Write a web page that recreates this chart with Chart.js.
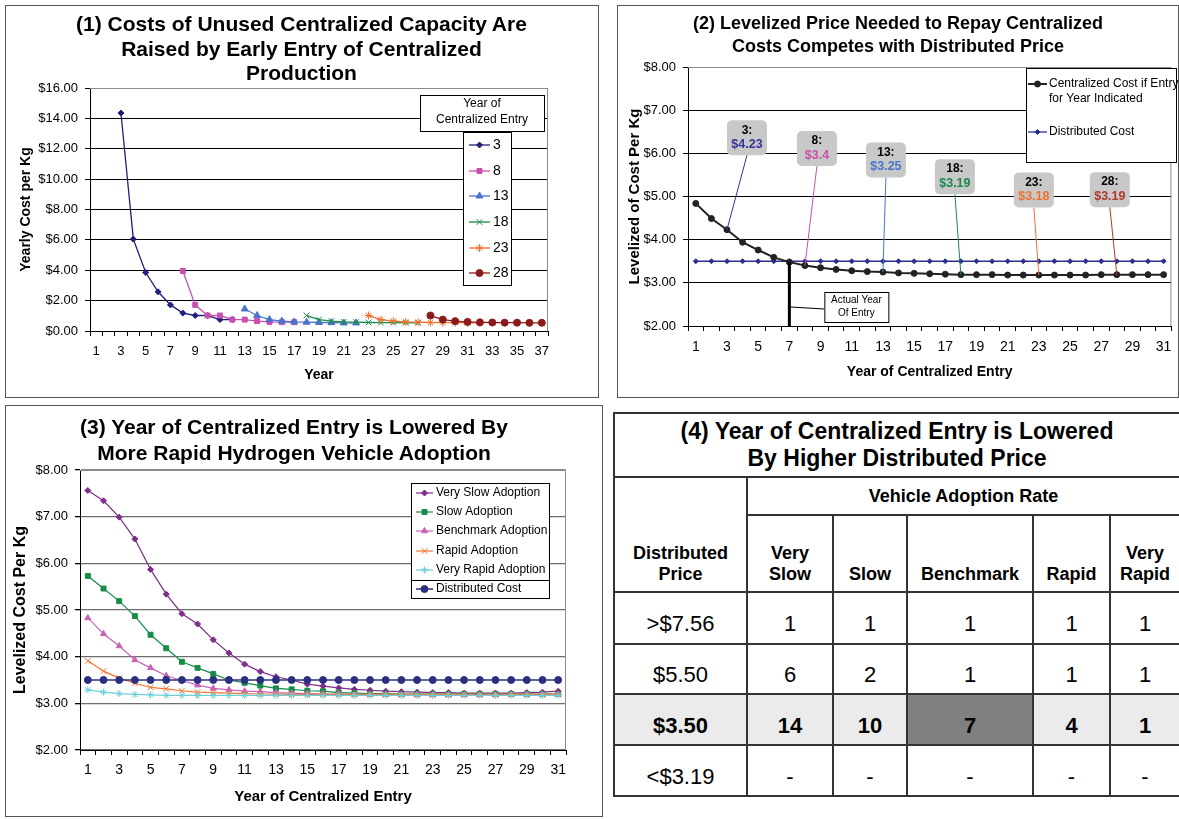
<!DOCTYPE html>
<html>
<head>
<meta charset="utf-8">
<script src="https://cdn.jsdelivr.net/npm/chart.js@4.4.1/dist/chart.umd.min.js"></script>
<style>
  html, body { margin: 0; padding: 0; background: #fff; }
  body { width: 1179px; height: 819px; position: relative; overflow: hidden;
         font-family: 'Liberation Sans', Arial, Helvetica, sans-serif; color: #000; }
  .panel { position: absolute; border: 1.5px solid #555; box-sizing: border-box; }
  .chart-title { position: absolute; text-align: center; font-weight: bold; }
  canvas { position: absolute; }
  #tbl { position: absolute; left: 613px; top: 412px; width: 566px; border-collapse: collapse;
         table-layout: fixed; font-family: inherit; }
  #tbl td { border: 2px solid #333; text-align: center; padding: 0; font-size: 22px; }
  #tbl .t-title td { height: 62px; font-size: 23px; font-weight: bold; line-height: 27px; }
  #tbl .t-head { font-size: 18px; font-weight: bold; line-height: 21px; vertical-align: bottom; padding-bottom: 6px; }
  #tbl .t-group td.t-span { vertical-align: middle; padding: 0; height: 36px; }
  #tbl .t-cols td { height: 69px; }
  #tbl .t-row td { vertical-align: middle; padding-top: 12px; }
  #tbl .t-base td { background: #ebebeb; font-weight: bold; }
  #tbl .t-base td.t-bench { background: #808080; }
</style>
</head>
<body>

<div class="panel" style="left:5px;top:5px;width:594px;height:393px;"></div>
<div class="panel" style="left:617px;top:5px;width:562px;height:393px;"></div>
<div class="panel" style="left:5px;top:405px;width:598px;height:412px;"></div>

<canvas id="chart1" width="600" height="400" style="left:0;top:0;"></canvas>
<canvas id="chart2" width="579" height="400" style="left:600px;top:0;"></canvas>
<canvas id="chart3" width="600" height="419" style="left:0;top:400px;"></canvas>

<div class="chart-title" style="left:5px;width:593px;top:12px;font-size:21px;line-height:24.5px;">(1) Costs of Unused Centralized Capacity Are<br>Raised by Early Entry of Centralized<br>Production</div>
<div class="chart-title" style="left:617px;width:562px;top:12px;font-size:18px;line-height:23px;">(2) Levelized Price Needed to Repay Centralized<br>Costs Competes with Distributed Price</div>
<div class="chart-title" style="left:0;width:588px;top:414px;font-size:21px;line-height:26px;">(3) Year of Centralized Entry is Lowered By<br>More Rapid Hydrogen Vehicle Adoption</div>

<table id="tbl">
  <colgroup><col style="width:133px"><col style="width:86px"><col style="width:74px"><col style="width:126px"><col style="width:77px"><col style="width:70px"></colgroup>
  <tbody id="tbl-body"></tbody>
</table>

<script>
/* ---------- Data: chart 1 (yearly cost per kg, by year of entry) ---------- */
var YEARS_37 = ['1','2','3','4','5','6','7','8','9','10','11','12','13','14','15','16','17','18','19',
                '20','21','22','23','24','25','26','27','28','29','30','31','32','33','34','35','36','37'];
var ENTRY_YEARS_1 = [3, 8, 13, 18, 23, 28];
var COST_ENTRY_3  = [14.35, 6.05, 3.85, 2.58, 1.72, 1.18, 1.02, 1.02, 0.75, 0.75];
var COST_ENTRY_8  = [3.95, 1.72, 1.02, 1.02, 0.75, 0.75, 0.65, 0.60, 0.58, 0.58];
var COST_ENTRY_13 = [1.45, 1.02, 0.75, 0.65, 0.60, 0.58, 0.56, 0.55, 0.53, 0.53];
var COST_ENTRY_18 = [1.02, 0.75, 0.65, 0.60, 0.58, 0.56, 0.55, 0.55, 0.54, 0.54];
var COST_ENTRY_23 = [1.02, 0.75, 0.65, 0.60, 0.58, 0.56, 0.55, 0.55, 0.54, 0.54];
var COST_ENTRY_28 = [1.02, 0.75, 0.65, 0.60, 0.57, 0.56, 0.55, 0.55, 0.54, 0.54];

/* ---------- Data: charts 2 and 3 (levelized cost per kg) ---------- */
var YEARS_31 = ['1','2','3','4','5','6','7','8','9','10','11','12','13','14','15','16',
                '17','18','19','20','21','22','23','24','25','26','27','28','29','30','31'];
var CENTRALIZED_COST = [4.84, 4.49, 4.23, 3.94, 3.76, 3.59, 3.48, 3.40, 3.35, 3.31, 3.28, 3.26, 3.25, 3.23, 3.22, 3.21,
                        3.20, 3.19, 3.19, 3.19, 3.18, 3.18, 3.18, 3.18, 3.18, 3.18, 3.19, 3.19, 3.19, 3.19, 3.19];
var DISTRIBUTED_COST = [3.5, 3.5, 3.5, 3.5, 3.5, 3.5, 3.5, 3.5, 3.5, 3.5, 3.5, 3.5, 3.5, 3.5, 3.5, 3.5,
                        3.5, 3.5, 3.5, 3.5, 3.5, 3.5, 3.5, 3.5, 3.5, 3.5, 3.5, 3.5, 3.5, 3.5, 3.5];
var CALLOUT_YEARS = [3, 8, 13, 18, 23, 28];

var VERY_SLOW  = [7.56, 7.34, 6.99, 6.52, 5.87, 5.34, 4.92, 4.70, 4.36, 4.08, 3.84, 3.68, 3.57, 3.50, 3.41, 3.37,
                  3.33, 3.30, 3.28, 3.26, 3.25, 3.24, 3.23, 3.23, 3.22, 3.22, 3.22, 3.22, 3.23, 3.24, 3.26];
var SLOW       = [5.73, 5.46, 5.19, 4.87, 4.47, 4.18, 3.89, 3.76, 3.63, 3.50, 3.44, 3.38, 3.32, 3.30, 3.27, 3.26,
                  3.23, 3.22, 3.21, 3.21, 3.20, 3.20, 3.20, 3.20, 3.20, 3.20, 3.20, 3.20, 3.20, 3.20, 3.20];
var BENCHMARK  = [4.83, 4.49, 4.23, 3.93, 3.76, 3.59, 3.49, 3.39, 3.32, 3.29, 3.26, 3.25, 3.23, 3.22, 3.21, 3.20,
                  3.20, 3.19, 3.19, 3.19, 3.18, 3.18, 3.18, 3.18, 3.18, 3.18, 3.18, 3.19, 3.19, 3.19, 3.19];
var RAPID      = [3.91, 3.69, 3.54, 3.43, 3.34, 3.31, 3.27, 3.24, 3.23, 3.22, 3.21, 3.20, 3.20, 3.19, 3.19, 3.19,
                  3.19, 3.19, 3.19, 3.19, 3.19, 3.19, 3.19, 3.19, 3.19, 3.19, 3.19, 3.19, 3.19, 3.19, 3.19];
var VERY_RAPID = [3.29, 3.24, 3.21, 3.19, 3.18, 3.17, 3.17, 3.17, 3.17, 3.17, 3.17, 3.17, 3.17, 3.17, 3.17, 3.17,
                  3.17, 3.17, 3.17, 3.17, 3.17, 3.17, 3.17, 3.17, 3.17, 3.17, 3.17, 3.17, 3.17, 3.17, 3.17];

/* ---------- Data: table 4 (year of centralized entry) ---------- */
var ADOPTION_RATES = ['Very Slow', 'Slow', 'Benchmark', 'Rapid', 'Very Rapid'];
var PRICE_LEVELS = ['>$7.56', '$5.50', '$3.50', '<$3.19'];
var ENTRY_YEAR_TABLE = [
  [1, 1, 1, 1, 1],
  [6, 2, 1, 1, 1],
  [14, 10, 7, 4, 1],
  [null, null, null, null, null]
];

/* ---------- Shared setup ---------- */
var FONT = "'Liberation Sans', Arial, Helvetica, sans-serif";
Chart.defaults.font.family = FONT;
Chart.defaults.color = '#000';

// later series sit on top, as in the spreadsheet charts
function stackOrder(list) {
  list.forEach(function (ds, i) { ds.order = list.length - 1 - i; });
  return list;
}

function padSeries(start, values, total) {
  var out = [];
  for (var i = 0; i < total; i++) {
    var k = i - (start - 1);
    out.push(k >= 0 && k < values.length ? values[k] : null);
  }
  return out;
}

function lineSet(label, data, color, style, radius, width) {
  return {
    label: label, data: data, borderColor: color, backgroundColor: color,
    pointBackgroundColor: color, pointBorderColor: color, pointBorderWidth: 1,
    pointStyle: style, pointRadius: radius, borderWidth: width || 1.3,
    tension: 0, spanGaps: false
  };
}

function xAxis(height, title, titleSize, titlePad, tickSize, tickPad) {
  return {
    type: 'category', offset: true,
    grid: { offset: true, drawOnChartArea: false, drawTicks: true, tickLength: 5, color: '#000', tickColor: '#000' },
    border: { color: '#000', width: 1 },
    ticks: {
      autoSkip: false, maxRotation: 0, minRotation: 0, padding: tickPad, color: '#000', font: { size: tickSize },
      callback: function (v, i) { return i % 2 === 0 ? this.getLabelForValue(v) : ''; }
    },
    title: { display: true, text: title, color: '#000', font: { size: titleSize, weight: 'bold' }, padding: { top: 0, bottom: titlePad } },
    afterFit: function (s) { s.height = height; }
  };
}

function yAxis(width, min, max, step, title, titleSize, titlePad, tickSize, gridColor, gridWidth) {
  return {
    min: min, max: max,
    grid: {
      color: function (c) { return c.tick && c.tick.value === max ? '#8c8c8c' : gridColor; },
      lineWidth: gridWidth, tickColor: '#000', drawTicks: true, tickLength: 5
    },
    border: { color: '#000', width: 1 },
    ticks: { stepSize: step, padding: 7, color: '#000', font: { size: tickSize },
             callback: function (v) { return '$' + Number(v).toFixed(2); } },
    title: { display: true, text: title, color: '#000', font: { size: titleSize, weight: 'bold' }, padding: { top: titlePad, bottom: 0 } },
    afterFit: function (s) { s.width = width; }
  };
}

/* ---------- Plugins ---------- */
var plotFrame = {
  id: 'plotFrame',
  beforeDatasetsDraw: function (chart) {
    var a = chart.chartArea, ctx = chart.ctx;
    ctx.save();
    ctx.strokeStyle = '#8c8c8c';
    ctx.lineWidth = 1;
    ctx.beginPath();
    ctx.moveTo(a.left, a.top + 0.5);
    ctx.lineTo(a.right - 0.5, a.top + 0.5);
    ctx.lineTo(a.right - 0.5, a.bottom);
    ctx.stroke();
    ctx.restore();
  }
};

var boxLegend = {
  id: 'boxLegend',
  afterDraw: function (chart, args, o) {
    var ctx = chart.ctx;
    ctx.save();
    ctx.lineWidth = 1;
    o.boxes.forEach(function (b) {
      ctx.fillStyle = '#fff';
      ctx.fillRect(b.x, b.y, b.w, b.h);
      ctx.strokeStyle = '#000';
      ctx.strokeRect(b.x + 0.5, b.y + 0.5, b.w, b.h);
    });
    if (o.separator) {
      ctx.beginPath();
      ctx.moveTo(o.separator.x0, o.separator.y + 0.5);
      ctx.lineTo(o.separator.x1, o.separator.y + 0.5);
      ctx.stroke();
    }
    ctx.fillStyle = '#000';
    ctx.textBaseline = 'middle';
    if (o.heading) {
      ctx.font = o.headingFont;
      ctx.textAlign = 'center';
      o.heading.lines.forEach(function (t, i) { ctx.fillText(t, o.heading.x, o.heading.y + i * o.heading.step); });
    }
    ctx.font = o.font;
    ctx.textAlign = 'left';
    chart.data.datasets.forEach(function (ds, i) {
      var y = o.rowY[i];
      ctx.strokeStyle = ds.borderColor;
      ctx.lineWidth = ds.borderWidth;
      ctx.beginPath();
      ctx.moveTo(o.lineX0, y);
      ctx.lineTo(o.lineX1, y);
      ctx.stroke();
      ctx.fillStyle = ds.pointBackgroundColor;
      ctx.lineWidth = 1;
      Chart.helpers.drawPoint(ctx, { pointStyle: ds.pointStyle, radius: ds.pointRadius, borderWidth: 1, rotation: 0 },
                              (o.lineX0 + o.lineX1) / 2, y);
      ctx.fillStyle = '#000';
      var lines = String(o.labels ? o.labels[i] : ds.label).split('\n');
      lines.forEach(function (t, k) { ctx.fillText(t, o.textX, y + k * 15); });
    });
    ctx.restore();
  }
};

var callouts = {
  id: 'callouts',
  afterDatasetsDraw: function (chart, args, o) {
    var ctx = chart.ctx, meta = chart.getDatasetMeta(0);
    ctx.save();
    CALLOUT_YEARS.forEach(function (yr, k) {
      var pt = meta.data[yr - 1];
      var off = o.offsets[k];
      var cx = pt.x + off.dx, cy = pt.y + off.dy;
      var left = cx - o.w / 2, top = cy - o.h / 2;
      ctx.strokeStyle = o.colors[k];
      ctx.lineWidth = 1;
      ctx.beginPath();
      ctx.moveTo(cx, top + o.h);
      ctx.lineTo(pt.x, pt.y);
      ctx.stroke();
      ctx.fillStyle = '#c8c8c8';
      ctx.beginPath();
      ctx.roundRect(left, top, o.w, o.h, 5);
      ctx.fill();
      ctx.textAlign = 'center';
      ctx.textBaseline = 'middle';
      ctx.font = 'bold 12px ' + FONT;
      ctx.fillStyle = '#000';
      ctx.fillText(yr + ':', cx, top + 10);
      ctx.font = 'bold 12.5px ' + FONT;
      ctx.fillStyle = o.colors[k];
      ctx.fillText('$' + chart.data.datasets[0].data[yr - 1], cx, top + 24);
    });
    ctx.restore();
  }
};

var entryMarker = {
  id: 'entryMarker',
  afterDatasetsDraw: function (chart) {
    var central = chart.data.datasets[0].data, dist = chart.data.datasets[1].data;
    var idx = central.findIndex(function (v, i) { return v <= dist[i]; });
    if (idx < 0) return;
    var pt = chart.getDatasetMeta(0).data[idx];
    var a = chart.chartArea, ctx = chart.ctx;
    ctx.save();
    ctx.strokeStyle = '#000';
    ctx.lineWidth = 3;
    ctx.beginPath();
    ctx.moveTo(pt.x, pt.y);
    ctx.lineTo(pt.x, a.bottom);
    ctx.stroke();
    var bx = pt.x + 35, by = a.bottom - 34;
    ctx.lineWidth = 1;
    ctx.beginPath();
    ctx.moveTo(pt.x + 1, a.bottom - 19);
    ctx.lineTo(bx, a.bottom - 17);
    ctx.stroke();
    ctx.fillStyle = '#fff';
    ctx.fillRect(bx, by, 64, 30);
    ctx.strokeRect(bx + 0.5, by + 0.5, 64, 30);
    ctx.fillStyle = '#000';
    ctx.font = '10px ' + FONT;
    ctx.textAlign = 'center';
    ctx.textBaseline = 'middle';
    ctx.fillText('Actual Year', bx + 32, by + 8);
    ctx.fillText('Of Entry', bx + 32, by + 21);
    ctx.restore();
  }
};

var commonOpts = {
  responsive: false, animation: false,
  plugins: { legend: { display: false }, title: { display: false }, tooltip: { enabled: false } }
};

function opts(extra) {
  var o = JSON.parse(JSON.stringify(commonOpts));
  Object.keys(extra).forEach(function (k) {
    if (k === 'plugins') Object.assign(o.plugins, extra.plugins); else o[k] = extra[k];
  });
  return o;
}

/* ---------- Chart 1 ---------- */
var entrySeries = [COST_ENTRY_3, COST_ENTRY_8, COST_ENTRY_13, COST_ENTRY_18, COST_ENTRY_23, COST_ENTRY_28];
var entryColors = ['#1f1f7a', '#c94faf', '#4a73c9', '#1a8a4a', '#f07030', '#8b1a1a'];
var entryStyles = ['rectRot', 'rect', 'triangle', 'crossRot', 'star', 'circle'];
var entryRadius = [3, 3.5, 4, 4, 4, 3.5];

new Chart(document.getElementById('chart1'), {
  type: 'line',
  data: {
    labels: YEARS_37,
    datasets: stackOrder(ENTRY_YEARS_1.map(function (yr, i) {
      return lineSet(String(yr), padSeries(yr, entrySeries[i], YEARS_37.length), entryColors[i], entryStyles[i], entryRadius[i], 1.3);
    }))
  },
  options: opts({
    layout: { padding: { left: 12, top: 88, right: 52, bottom: 10 } },
    scales: {
      x: xAxis(59, 'Year', 14, 6, 13, 8),
      y: yAxis(78, 0, 16, 2, 'Yearly Cost per Kg', 14, 6, 13, '#000', 1)
    },
    plugins: {
      boxLegend: {
        boxes: [{ x: 420, y: 95, w: 124, h: 36 }, { x: 463, y: 132, w: 48, h: 153 }],
        heading: { lines: ['Year of', 'Centralized Entry'], x: 482, y: 104, step: 16 },
        headingFont: '12px ' + FONT,
        font: '14px ' + FONT,
        rowY: [145, 171, 196, 222, 248, 273],
        lineX0: 469, lineX1: 490, textX: 493
      }
    }
  }),
  plugins: [plotFrame, boxLegend]
});

/* ---------- Chart 2 ---------- */
new Chart(document.getElementById('chart2'), {
  type: 'line',
  data: {
    labels: YEARS_31,
    datasets: [
      Object.assign(lineSet('Centralized Cost if Entry for Year Indicated', CENTRALIZED_COST, '#222222', 'circle', 3, 2), { order: 0 }),
      Object.assign(lineSet('Distributed Cost', DISTRIBUTED_COST, '#2b2f8f', 'rectRot', 2.5, 1.3), { order: 1 })
    ]
  },
  options: opts({
    layout: { padding: { left: 20, top: 67, right: 7, bottom: 10 } },
    scales: {
      x: xAxis(64, 'Year of Centralized Entry', 14, 9.6, 14, 7.5),
      y: yAxis(68, 2, 8, 1, 'Levelized of Cost Per Kg', 15, 6, 13, '#000', 1)
    },
    plugins: {
      boxLegend: {
        boxes: [{ x: 426, y: 68, w: 150, h: 94 }],
        font: '12px ' + FONT,
        labels: ['Centralized Cost if Entry\nfor Year Indicated', 'Distributed Cost'],
        rowY: [84, 132],
        lineX0: 428, lineX1: 447, textX: 449
      },
      callouts: {
        w: 40, h: 35,
        offsets: [{ dx: 20, dy: -92 }, { dx: 12, dy: -117 }, { dx: 3, dy: -112 },
                  { dx: -6, dy: -98 }, { dx: -5, dy: -85 }, { dx: -7, dy: -85 }],
        colors: ['#33339a', '#cc4faa', '#4a73c9', '#1a8a4a', '#f07030', '#b03a2a']
      }
    }
  }),
  plugins: [plotFrame, entryMarker, callouts, boxLegend]
});

/* ---------- Chart 3 ---------- */
new Chart(document.getElementById('chart3'), {
  type: 'line',
  data: {
    labels: YEARS_31,
    datasets: stackOrder([
      lineSet('Very Slow Adoption', VERY_SLOW, '#7f2c8c', 'rectRot', 3, 1.2),
      lineSet('Slow Adoption', SLOW, '#178c48', 'rect', 3.5, 1.2),
      lineSet('Benchmark Adoption', BENCHMARK, '#c963b5', 'triangle', 3.5, 1.2),
      lineSet('Rapid Adoption', RAPID, '#f2742e', 'crossRot', 4, 1.2),
      lineSet('Very Rapid Adoption', VERY_RAPID, '#6ccfdb', 'star', 3.5, 1.2),
      lineSet('Distributed Cost', DISTRIBUTED_COST, '#2b2f7f', 'circle', 3.5, 1.5)
    ])
  },
  options: opts({
    layout: { padding: { left: 10, top: 70, right: 34, bottom: 10 } },
    scales: {
      x: xAxis(59, 'Year of Centralized Entry', 15, 3, 14, 6.5),
      y: yAxis(70, 2, 8, 1, 'Levelized Cost Per Kg', 16, 1, 13, '#6e6e6e', 1.3)
    },
    plugins: {
      boxLegend: {
        boxes: [{ x: 411, y: 83, w: 138, h: 115 }],
        separator: { x0: 411, x1: 549, y: 180 },
        font: '12px ' + FONT,
        rowY: [93, 112, 131, 151, 170, 189],
        lineX0: 416, lineX1: 433, textX: 436
      }
    }
  }),
  plugins: [plotFrame, boxLegend]
});

/* ---------- Table 4 ---------- */
(function buildTable() {
  var baseRow = PRICE_LEVELS.indexOf('$3.50');
  var benchCol = ADOPTION_RATES.indexOf('Benchmark');
  var html = '<tr class="t-title"><td colspan="6">(4) Year of Centralized Entry is Lowered<br>By Higher Distributed Price</td></tr>';
  html += '<tr class="t-group"><td rowspan="2" class="t-head">Distributed<br>Price</td>' +
          '<td colspan="5" class="t-head t-span">Vehicle Adoption Rate</td></tr>';
  html += '<tr class="t-cols">' + ADOPTION_RATES.map(function (r) {
    return '<td class="t-head">' + r.replace(' ', '<br>') + '</td>';
  }).join('') + '</tr>';
  var heights = [52, 50, 51, 51];
  PRICE_LEVELS.forEach(function (p, i) {
    html += '<tr class="t-row' + (i === baseRow ? ' t-base' : '') + '" style="height:' + heights[i] + 'px"><td>' + p + '</td>' +
      ENTRY_YEAR_TABLE[i].map(function (v, j) {
        var cls = (i === baseRow && j === benchCol) ? ' class="t-bench"' : '';
        return '<td' + cls + '>' + (v === null ? '-' : v) + '</td>';
      }).join('') + '</tr>';
  });
  document.getElementById('tbl-body').innerHTML = html;
})();
</script>
</body>
</html>
